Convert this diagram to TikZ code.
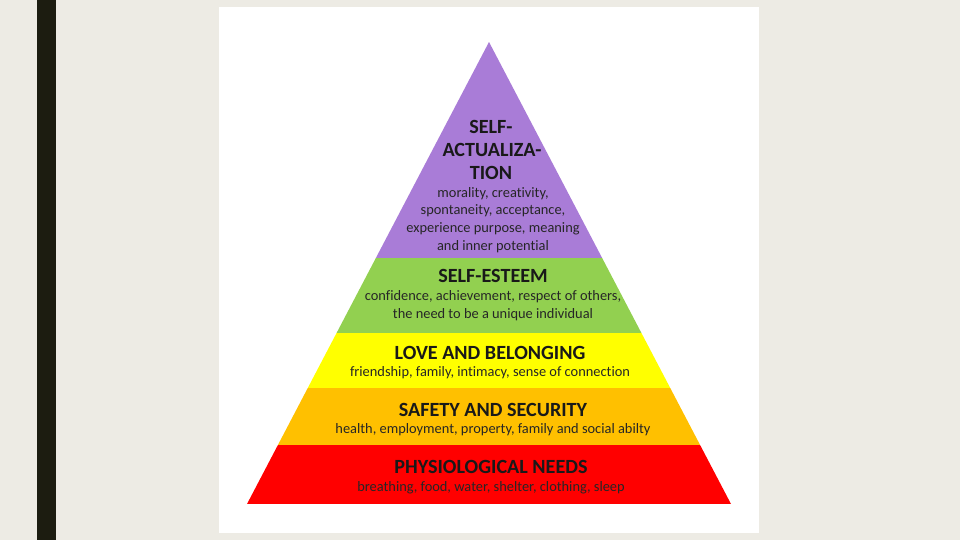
\documentclass[tikz,border=0pt]{standalone}
\usepackage{fontspec}
\setmainfont[Ligatures=NoCommon]{Carlito}
\usepackage{tikz}
\usetikzlibrary{positioning}
\definecolor{slidebg}{HTML}{EDEBE4}
\definecolor{slidebar}{HTML}{1C1C10}
\definecolor{selfact}{HTML}{A97CD7}
\definecolor{esteem}{HTML}{92D050}
\definecolor{belong}{HTML}{FFFF00}
\definecolor{safety}{HTML}{FFC000}
\definecolor{physio}{HTML}{FF0000}
\tikzset{
  heading/.style={font=\fontsize{15.1}{18}\selectfont\bfseries, text=black!90, inner sep=0pt},
  detail/.style={font=\fontsize{10.8}{13.4}\selectfont, text=black!85, align=center, inner sep=0pt}
}

\begin{document}
\begin{tikzpicture}[x=0.75pt, y=-0.75pt]
  % slide background
  \fill[slidebg] (0,0) rectangle (960,540);
  \useasboundingbox (0,0) rectangle (960,540);
  \fill[slidebar] (37,0) rectangle (56,540);
  \fill[white] (219,7) rectangle (759,533);

  % pyramid bands
  \begin{scope}
    \clip (489,42) -- (247,504) -- (731,504) -- cycle;
    \fill[selfact] (240,40) rectangle (740,258);
    \fill[esteem] (240,258) rectangle (740,333);
    \fill[belong] (240,333) rectangle (740,388);
    \fill[safety] (240,388) rectangle (740,445);
    \fill[physio] (240,445) rectangle (740,504);
  \end{scope}

  % self-actualization
  \node[heading] (sa1) at (491,127) {SELF-};
  \node[heading] (sa2) at (492,150) {ACTUALIZA-};
  \node[heading] (sa3) at (491,173) {TION};
  \node[detail] (sad) at (493,220) {morality, creativity,\\spontaneity, acceptance,\\experience purpose, meaning\\and inner potential};

  % self-esteem
  \node[heading] (se) at (493,276) {SELF-ESTEEM};
  \node[detail] (sed) at (493,306) {confidence, achievement, respect of others,\\the need to be a unique individual};

  % love and belonging
  \node[heading] (lb) at (490,353) {LOVE AND BELONGING};
  \node[detail] (lbd) at (490,373) {friendship, family, intimacy, sense of connection};

  % safety and security
  \node[heading] (ss) at (493,410) {SAFETY AND SECURITY};
  \node[detail] (ssd) at (493,430) {health, employment, property, family and social abilty};

  % physiological needs
  \node[heading] (pn) at (491,467) {PHYSIOLOGICAL NEEDS};
  \node[detail] (pnd) at (491,488) {breathing, food, water, shelter, clothing, sleep};
\end{tikzpicture}
\end{document}
